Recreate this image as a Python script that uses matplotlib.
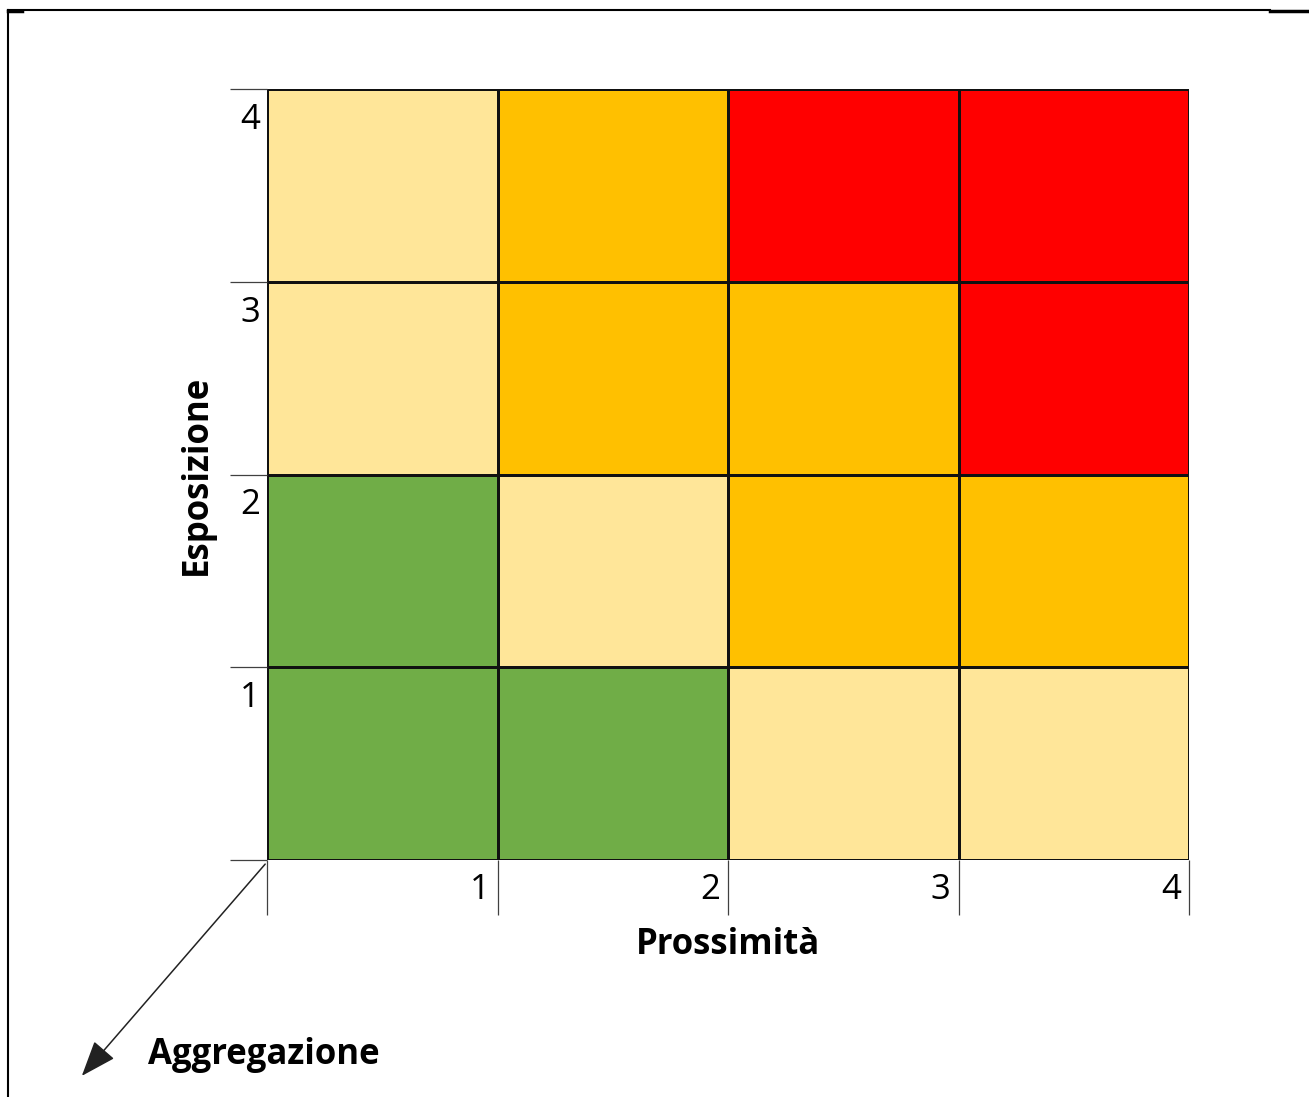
import matplotlib
matplotlib.use("Agg")
import matplotlib.pyplot as plt
from matplotlib.colors import ListedColormap, BoundaryNorm
from matplotlib.lines import Line2D
import numpy as np

plt.rcParams['font.family'] = ['Open Sans', 'DejaVu Sans']

x_labels = ["1", "2", "3", "4"]
y_labels = ["1", "2", "3", "4"]
# risk levels: 0 green, 1 light yellow, 2 orange, 3 red ; rows from Esposizione 1 to 4
levels = [
    [0, 0, 1, 1],
    [0, 1, 2, 2],
    [1, 2, 2, 3],
    [1, 2, 3, 3],
]
level_colors = ["#70AD47", "#FFE699", "#FFC000", "#FF0000"]
x_title = "Prossimità"
y_title = "Esposizione"
z_title = "Aggregazione"

W, H = 1309, 1097
fig = plt.figure(figsize=(W / 100, H / 100), dpi=100)

def fx(px):
    return px / W

def fy(py):
    return 1 - py / H

left, right, top, bottom = 267, 1189, 89, 860
ax = fig.add_axes([fx(left), fy(bottom), fx(right - left), (bottom - top) / H])
cmap = ListedColormap(level_colors)
norm = BoundaryNorm([-0.5, 0.5, 1.5, 2.5, 3.5], cmap.N)
ax.pcolormesh(np.arange(5), np.arange(5), np.array(levels), cmap=cmap, norm=norm,
              edgecolor="#111111", linewidth=0.8)
ax.set_xlim(0, 4)
ax.set_ylim(0, 4)
for s in ax.spines.values():
    s.set_visible(False)
ax.set_xticks(range(5))
ax.set_yticks(range(5))
ax.set_xticklabels([])
ax.set_yticklabels([])
ax.tick_params(axis='x', direction='out', length=55 * 0.72, width=0.9, color="#404040")
ax.tick_params(axis='y', direction='out', length=37 * 0.72, width=0.9, color="#404040")

for i, lab in enumerate(x_labels):
    ax.text(i + 1 - 0.035, -0.155, lab, ha='right', va='center', fontsize=25)
for i, lab in enumerate(y_labels):
    ax.text(-0.03, i + 1 - 0.16, lab, ha='right', va='center', fontsize=25)

fig.text(fx(728), fy(945), x_title, ha='center', va='center', fontsize=25, fontweight='bold')
fig.text(fx(197), fy(475), y_title, ha='center', va='center', rotation=90, fontsize=25, fontweight='bold')
fig.text(fx(148), fy(1055), z_title, ha='left', va='center', fontsize=25, fontweight='bold')

fig.patches.append(matplotlib.patches.FancyArrowPatch(
    (fx(267), fy(862)), (fx(80), fy(1078)), transform=fig.transFigure,
    arrowstyle='-|>,head_length=1.6,head_width=0.6', mutation_scale=14,
    color='#222222', linewidth=1.1))

fig.add_artist(Line2D([fx(8), fx(1270)], [fy(10), fy(10)], color='black', linewidth=1.5))
fig.add_artist(Line2D([fx(8), fx(8)], [fy(10), fy(1097)], color='black', linewidth=1.5))
fig.add_artist(Line2D([fx(8), fx(22)], [fy(11), fy(11)], color='black', linewidth=2.5))
fig.add_artist(Line2D([fx(1270), fx(1309)], [fy(11), fy(11)], color='black', linewidth=2.5))

fig.savefig("out.png", dpi=100, facecolor='white')
